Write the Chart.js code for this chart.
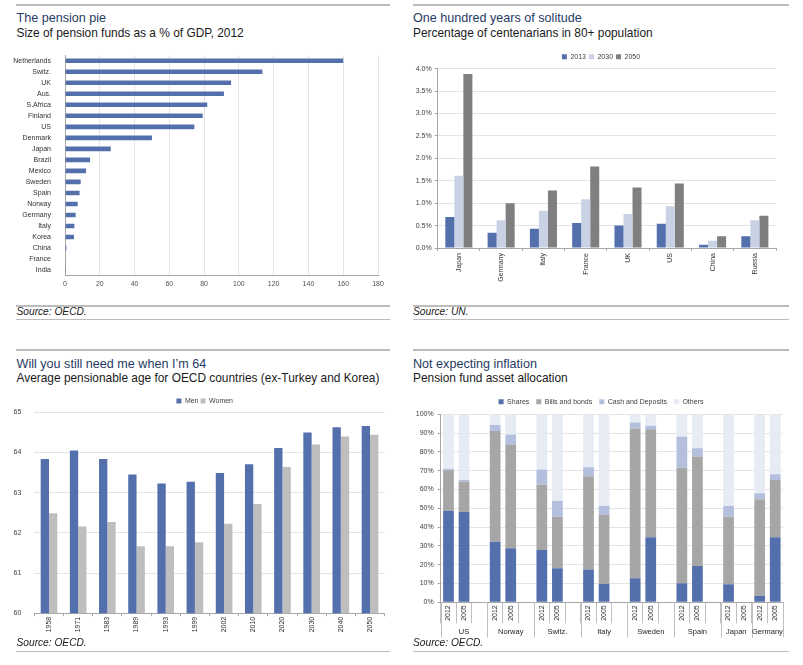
<!DOCTYPE html>
<html><head><meta charset="utf-8">
<script src="https://cdn.jsdelivr.net/npm/chart.js@4.4.1/dist/chart.umd.min.js"></script>
<style>
html,body{margin:0;padding:0;background:#fff;}
#page{position:relative;width:803px;height:665px;overflow:hidden;font-family:"Liberation Sans",Arial,sans-serif;}
.rule{position:absolute;background:#BDBDBD;}
.t{position:absolute;white-space:nowrap;line-height:1;}
.title{font-size:12.6px;color:#1F3B63;}
.sub{font-size:11.9px;color:#1a1a1a;}
.src{font-size:10.2px;font-style:italic;color:#1a1a1a;}
canvas{position:absolute;}
</style></head><body><div id="page">
<!-- top-left panel -->
<div class="rule" style="left:16px;top:4px;width:374px;height:2px"></div>
<div class="t title" style="left:16.5px;top:12.3px">The pension pie</div>
<div class="t sub" style="left:16.5px;top:27.9px">Size of pension funds as a % of GDP, 2012</div>
<canvas id="c1" width="400" height="250" style="left:0;top:45px"></canvas>
<div class="rule" style="left:16px;top:305px;width:374px;height:2px"></div>
<div class="t src" style="left:16.5px;top:307.4px">Source: OECD.</div>
<div class="rule" style="left:16px;top:319px;width:374px;height:1px"></div>
<!-- top-right panel -->
<div class="rule" style="left:413px;top:4px;width:376px;height:2px"></div>
<div class="t title" style="left:413px;top:12.3px">One hundred years of solitude</div>
<div class="t sub" style="left:413px;top:27.9px">Percentage of centenarians in 80+ population</div>
<canvas id="c2" width="403" height="250" style="left:400px;top:45px"></canvas>
<div class="rule" style="left:413px;top:305px;width:376px;height:2px"></div>
<div class="t src" style="left:413px;top:307.4px">Source: UN.</div>
<div class="rule" style="left:413px;top:319px;width:376px;height:1px"></div>
<!-- bottom-left panel -->
<div class="rule" style="left:16px;top:349px;width:374px;height:2px"></div>
<div class="t title" style="left:16.5px;top:357.6px">Will you still need me when I’m 64</div>
<div class="t sub" style="left:16.5px;top:373.2px">Average pensionable age for OECD countries (ex-Turkey and Korea)</div>
<canvas id="c3" width="400" height="250" style="left:0;top:390px"></canvas>
<div class="t src" style="left:16.5px;top:637.8px">Source: OECD.</div>
<div class="rule" style="left:16px;top:651px;width:374px;height:1px"></div>
<!-- bottom-right panel -->
<div class="rule" style="left:413px;top:349px;width:376px;height:2px"></div>
<div class="t title" style="left:413px;top:357.6px">Not expecting inflation</div>
<div class="t sub" style="left:413px;top:373.2px">Pension fund asset allocation</div>
<canvas id="c4" width="403" height="252" style="left:400px;top:390px"></canvas>
<div class="t src" style="left:413px;top:637.8px">Source: OECD.</div>
<div class="rule" style="left:413px;top:651px;width:376px;height:1px"></div>
</div>
<script>
// ---------- DATA ----------
// Chart 1: size of pension funds, % of GDP, 2012
const pensionCountries = ['Netherlands','Switz.','UK','Aus.','S.Africa','Finland','US','Denmark','Japan','Brazil','Mexico','Sweden','Spain','Norway','Germany','Italy','Korea','China','France','India'];
const pensionValues = [160, 113.5, 95.5, 91.4, 81.8, 79.2, 74.4, 50, 26.3, 14.4, 12.1, 9.0, 8.4, 7.3, 6.1, 5.4, 5.2, 0.8, 0.2, 0.1];
const pensionTicks = [0, 20, 40, 60, 80, 100, 120, 140, 160, 180];

// Chart 2: centenarians in 80+ population (%)
const centCountries = ['Japan','Germany','Italy','France','UK','US','China','Russia'];
const centSeriesNames = ['2013','2030','2050'];
const cent2013 = [0.69, 0.34, 0.43, 0.56, 0.50, 0.54, 0.07, 0.26];
const cent2030 = [1.61, 0.62, 0.83, 1.09, 0.76, 0.93, 0.16, 0.62];
const cent2050 = [3.88, 1.00, 1.28, 1.82, 1.35, 1.44, 0.26, 0.72];

// Chart 3: average pensionable age
const ageYears = ['1958','1971','1983','1989','1993','1999','2002','2010','2020','2030','2040','2050'];
const ageMen = [63.84, 64.05, 63.84, 63.45, 63.23, 63.27, 63.49, 63.71, 64.11, 64.50, 64.63, 64.66];
const ageWomen = [62.49, 62.16, 62.27, 61.67, 61.67, 61.77, 62.23, 62.72, 63.64, 64.20, 64.40, 64.44];

// Chart 4: pension fund asset allocation (%)
const allocCountries = ['US','Norway','Switz.','Italy','Sweden','Spain','Japan','Germany'];
const allocSlots = [3, 3, 3, 3, 3, 3, 2, 2];
const allocYears = ['2012','2005','', '2012','2005','', '2012','2005','', '2012','2005','', '2012','2005','', '2012','2005','', '2012','2005', '2012','2005'];
const allocShares = [48.7, 48.0, null, 32.2, 28.7, null, 27.8, 18.1, null, 17.5, 9.7, null, 12.8, 34.6, null, 10.1, 19.3, null, 9.6, null, 3.5, 34.6];
const allocBonds  = [21.6, 16.3, null, 58.9, 55.2, null, 34.7, 27.4, null, 49.5, 36.9, null, 79.7, 57.5, null, 61.5, 58.1, null, 35.9, null, 51.3, 30.5];
const allocCash   = [0.7, 0.7, null, 3.2, 5.4, null, 8.2, 8.4, null, 4.8, 4.6, null, 3.2, 1.8, null, 16.5, 4.5, null, 5.7, null, 3.2, 3.0];
const allocOthers = [29.0, 35.0, null, 5.7, 10.7, null, 29.3, 46.1, null, 28.2, 48.8, null, 4.3, 6.1, null, 11.9, 18.1, null, 48.8, null, 42.0, 31.9];

// ---------- STYLE ----------
const BLUE = '#5470AC', LIGHTBLUE = '#C9D1E5', DGRAY = '#7F7F7F', LGRAY = '#BEBEBE', BONDS = '#A6A6A6', CASH = '#B3BFDD', OTHERS = '#E6EBF4';
const GRID = '#E4E4E4', AXIS = '#A6A6A6';
Chart.defaults.font.family = '"Liberation Sans", Arial, sans-serif';
Chart.defaults.font.size = 7;
Chart.defaults.color = '#404040';
Chart.defaults.animation = false;
const fnt = {size: 7};
const legendOpts = (pad) => ({display: true, position: 'top', align: 'center',
  labels: {boxWidth: 5, boxHeight: 5, padding: pad, font: fnt, color: '#404040'}});

// shifts the legend box after layout (legend placement only)
const legendShift = {
  id: 'legendShift',
  afterLayout(chart, args, opts) {
    const l = chart.legend; if (!l) return;
    const dx = opts.dx || 0, dy = opts.dy || 0;
    l.left += dx; l.right += dx; l.top += dy; l.bottom += dy;
  }
};

// ---------- Chart 1 ----------
new Chart(document.getElementById('c1'), {
  type: 'bar',
  data: {labels: pensionCountries, datasets: [{data: pensionValues, backgroundColor: BLUE, barPercentage: 0.42, categoryPercentage: 1}]},
  options: {
    responsive: false, indexAxis: 'y',
    layout: {padding: {top: 8.1, right: 22, left: 0, bottom: 0}},
    plugins: {legend: {display: false}, tooltip: {enabled: false}},
    scales: {
      x: {min: 0, max: 180, afterBuildTicks: s => { s.ticks = pensionTicks.map(v => ({value: v})); },
          grid: {color: GRID, drawTicks: false}, border: {color: AXIS},
          ticks: {font: fnt, padding: 4.5, color: '#505050'},
          afterFit: s => { s.height = 19.4; }},
      y: {grid: {display: false}, border: {display: true, color: AXIS},
          ticks: {font: fnt, padding: 6, color: '#303030', autoSkip: false},
          afterFit: s => { s.width = 65; }}
    }
  }
});

// ---------- Chart 2 ----------
new Chart(document.getElementById('c2'), {
  type: 'bar',
  data: {labels: centCountries, datasets: [
    {label: centSeriesNames[0], data: cent2013, backgroundColor: BLUE},
    {label: centSeriesNames[1], data: cent2030, backgroundColor: LIGHTBLUE},
    {label: centSeriesNames[2], data: cent2050, backgroundColor: DGRAY}
  ]},
  options: {
    responsive: false,
    datasets: {bar: {categoryPercentage: 0.64, barPercentage: 1}},
    layout: {padding: {top: 3.7, right: 27, left: 0, bottom: 0}},
    plugins: {legend: legendOpts(3), legendShift: {dx: 13, dy: 1.5}, tooltip: {enabled: false}},
    scales: {
      x: {grid: {display: true, offset: true, drawOnChartArea: false, tickLength: 3, tickColor: AXIS}, border: {color: AXIS},
          ticks: {font: fnt, minRotation: 90, maxRotation: 90, padding: 2, autoSkip: false, color: '#303030'},
          afterFit: s => { s.height = 47; }},
      y: {min: 0, max: 4, grid: {color: GRID, tickLength: 3, tickColor: AXIS}, border: {color: AXIS},
          ticks: {stepSize: 0.5, font: fnt, padding: 3, color: '#404040', callback: v => v.toFixed(1) + '%'},
          afterFit: s => { s.width = 37.7; }}
    }
  },
  plugins: [legendShift]
});

// ---------- Chart 3 ----------
new Chart(document.getElementById('c3'), {
  type: 'bar',
  data: {labels: ageYears, datasets: [
    {label: 'Men', data: ageMen, backgroundColor: BLUE},
    {label: 'Women', data: ageWomen, backgroundColor: LGRAY}
  ]},
  options: {
    responsive: false,
    datasets: {bar: {categoryPercentage: 0.57, barPercentage: 1}},
    layout: {padding: {top: 3.3, right: 15.4, left: 0, bottom: 0}},
    plugins: {legend: legendOpts(2), legendShift: {dx: 12.4, dy: 2.2}, tooltip: {enabled: false}},
    scales: {
      x: {grid: {display: true, offset: true, drawOnChartArea: false, tickLength: 3, tickColor: AXIS}, border: {color: AXIS},
          ticks: {font: fnt, minRotation: 90, maxRotation: 90, padding: 0.5, autoSkip: false, color: '#303030'},
          afterFit: s => { s.height = 26.7; }},
      y: {min: 60, max: 65, grid: {color: GRID, drawTicks: false}, border: {display: false},
          ticks: {stepSize: 1, font: fnt, padding: 13, color: '#404040'},
          afterFit: s => { s.width = 34.4; }}
    }
  },
  plugins: [legendShift]
});

// ---------- Chart 4 ----------
const groupPlugin = {
  id: 'groupLabels',
  afterDraw(chart) {
    const x = chart.scales.x, ctx = chart.ctx;
    const step = x.getPixelForValue(1) - x.getPixelForValue(0);
    ctx.save();
    ctx.strokeStyle = '#BFBFBF'; ctx.lineWidth = 1;
    ctx.fillStyle = '#262626'; ctx.font = '7.5px "Liberation Sans", Arial, sans-serif';
    ctx.textAlign = 'center'; ctx.textBaseline = 'middle';
    let idx = 0;
    allocCountries.forEach((c, i) => {
      const n = allocSlots[i];
      const left = x.getPixelForValue(idx) - step / 2;
      const right = x.getPixelForValue(idx + n - 1) + step / 2;
      [left, right].forEach(px => {
        const xx = Math.round(px) + 0.5;
        ctx.beginPath(); ctx.moveTo(xx, x.top); ctx.lineTo(xx, x.top + 35); ctx.stroke();
      });
      ctx.fillText(c, (left + right) / 2, x.top + 29.7);
      idx += n;
    });
    ctx.restore();
  }
};
new Chart(document.getElementById('c4'), {
  type: 'bar',
  data: {labels: allocYears, datasets: [
    {label: 'Shares', data: allocShares, backgroundColor: BLUE},
    {label: 'Bills and bonds', data: allocBonds, backgroundColor: BONDS},
    {label: 'Cash and Deposits', data: allocCash, backgroundColor: CASH},
    {label: 'Others', data: allocOthers, backgroundColor: OTHERS}
  ]},
  options: {
    responsive: false,
    datasets: {bar: {categoryPercentage: 1, barPercentage: 0.69}},
    layout: {padding: {top: 0.3, right: 20, left: 0, bottom: 0}},
    plugins: {legend: legendOpts(7), legendShift: {dx: 9.5, dy: 0.9}, tooltip: {enabled: false}},
    scales: {
      x: {stacked: true, grid: {display: true, offset: true, drawOnChartArea: false, tickLength: 21, tickColor: '#BFBFBF'}, border: {color: AXIS},
          ticks: {font: fnt, minRotation: 90, maxRotation: 90, padding: -18, autoSkip: false, color: '#303030'},
          afterFit: s => { s.height = 39.7; }},
      y: {stacked: true, min: 0, max: 100, grid: {color: GRID, tickLength: 3, tickColor: AXIS}, border: {color: AXIS},
          ticks: {stepSize: 10, font: fnt, padding: 4, color: '#404040', callback: v => v + '%'},
          afterFit: s => { s.width = 40.7; }}
    }
  },
  plugins: [groupPlugin, legendShift]
});
</script>
</body></html>
